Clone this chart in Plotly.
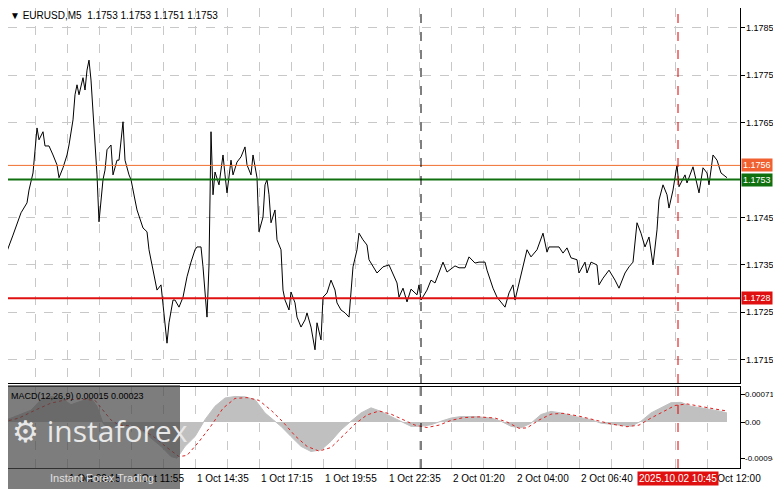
import plotly.graph_objects as go

# price line (bar index, close)
bar_idx = [0, 2, 5, 7, 9, 12, 13, 15, 17, 18, 20, 21, 23, 25, 27, 28, 30, 32, 33, 35, 36, 37, 38, 40, 41, 42, 43, 44, 46, 47, 48,
           50, 51, 52, 54, 55, 57, 58, 60, 61, 63, 64, 66, 67, 70, 72, 73, 75, 77, 79, 82, 83, 85, 86, 88, 90, 92, 94, 96, 97, 99,
           100, 102, 103, 104, 105, 106, 108, 110, 111, 112, 114, 115, 117, 119, 121, 122, 124, 125, 127, 128, 130, 131, 132, 133,
           134, 136, 137, 139, 140, 141, 143, 144, 146, 147, 149, 151, 152, 154, 156, 157, 159, 160, 162, 164, 166, 167, 169, 171,
           173, 174, 175, 177, 178, 180, 182, 183, 185, 187, 190, 193, 197, 198, 200, 202, 204, 207, 208, 209, 212, 214, 216, 220,
           222, 226, 228, 231, 233, 236, 238, 241, 242, 245, 247, 251, 253, 255, 256, 257, 260, 262, 264, 267, 270, 272, 273, 278,
           280, 282, 284, 287, 288, 291, 292, 294, 297, 298, 300, 303, 306, 308, 311, 313, 315, 317, 319, 321, 323, 325, 327, 328,
           330, 332, 333, 335, 337, 338, 341, 342, 345, 347, 348, 350, 352, 353, 355, 357, 359, 362]
close = [1.17361, 1.17379, 1.17413, 1.17439, 1.17460, 1.17481, 1.17508, 1.17544, 1.17639, 1.17614, 1.17631, 1.17601, 1.17601,
         1.17582, 1.17561, 1.17534, 1.17555, 1.17582, 1.17603, 1.17656, 1.17709, 1.17730, 1.17709, 1.17745, 1.17719, 1.17761,
         1.17782, 1.17740, 1.17614, 1.17540, 1.17441, 1.17530, 1.17550, 1.17593, 1.17603, 1.17540, 1.17571, 1.17571, 1.17652,
         1.17571, 1.17540, 1.17530, 1.17487, 1.17466, 1.17428, 1.17420, 1.17382, 1.17339, 1.17297, 1.17308, 1.17185, 1.17228,
         1.17276, 1.17276, 1.17261, 1.17282, 1.17325, 1.17356, 1.17382, 1.17388, 1.17388, 1.17346, 1.17240, 1.17350, 1.17631,
         1.17498, 1.17546, 1.17519, 1.17582, 1.17540, 1.17502, 1.17571, 1.17540, 1.17567, 1.17578, 1.17599, 1.17561, 1.17540,
         1.17582, 1.17534, 1.17420, 1.17451, 1.17519, 1.17530, 1.17498, 1.17439, 1.17466, 1.17403, 1.17382, 1.17297, 1.17276,
         1.17255, 1.17293, 1.17270, 1.17240, 1.17219, 1.17234, 1.17249, 1.17219, 1.17171, 1.17228, 1.17192, 1.17282, 1.17291,
         1.17318, 1.17297, 1.17270, 1.17255, 1.17249, 1.17240, 1.17297, 1.17346, 1.17382, 1.17417, 1.17403, 1.17392, 1.17361,
         1.17346, 1.17333, 1.17346, 1.17350, 1.17312, 1.17282, 1.17301, 1.17272, 1.17299, 1.17287, 1.17308, 1.17276, 1.17297,
         1.17318, 1.17312, 1.17356, 1.17335, 1.17348, 1.17344, 1.17344, 1.17367, 1.17354, 1.17356, 1.17356, 1.17339, 1.17301,
         1.17282, 1.17261, 1.17291, 1.17308, 1.17276, 1.17293, 1.17346, 1.17382, 1.17367, 1.17382, 1.17417, 1.17377, 1.17388,
         1.17388, 1.17375, 1.17386, 1.17365, 1.17361, 1.17333, 1.17356, 1.17333, 1.17356, 1.17350, 1.17308, 1.17322, 1.17339,
         1.17318, 1.17301, 1.17333, 1.17346, 1.17356, 1.17439, 1.17417, 1.17388, 1.17409, 1.17350, 1.17424, 1.17487, 1.17519,
         1.17498, 1.17470, 1.17508, 1.17561, 1.17515, 1.17540, 1.17523, 1.17557, 1.17515, 1.17502, 1.17555, 1.17544, 1.17519,
         1.17582, 1.17571, 1.17544, 1.17534]

# MACD histogram and signal
macd_idx = [0, 14, 19, 24, 29, 34, 39, 44, 47, 50, 52, 59, 64, 69, 74, 79, 84, 87, 91, 96, 101, 106, 111, 116, 121, 126, 131,
            135, 139, 144, 149, 154, 159, 164, 169, 174, 179, 184, 189, 194, 199, 204, 209, 214, 219, 224, 229, 236, 244, 249,
            254, 259, 264, 269, 274, 279, 286, 294, 299, 306, 314, 319, 324, 329, 334, 339, 344, 349, 354, 359, 362]
macd_main = [0.00002, 0.00030, 0.00057, 0.00065, 0.00061, 0.00044, 0.00053, 0.00061, 0.00040, -0.00003, -0.00015, -0.00011,
             -0.00007, -0.00020, -0.00041, -0.00062, -0.00088, -0.00092, -0.00062, -0.00037, 0.00006, 0.00040, 0.00061, 0.00065,
             0.00064, 0.00057, 0.00023, 0.00006, -0.00011, -0.00037, -0.00062, -0.00075, -0.00071, -0.00049, -0.00020, 0.00002,
             0.00023, 0.00036, 0.00027, 0.00014, 0.00002, -0.00011, -0.00011, -0.00007, 0.00002, 0.00010, 0.00014, 0.00014,
             0.00010, 0.00002, -0.00011, -0.00015, -0.00003, 0.00019, 0.00027, 0.00023, 0.00014, 0.00006, -0.00003, -0.00007,
             -0.00011, 0.00002, 0.00023, 0.00036, 0.00049, 0.00050, 0.00040, 0.00036, 0.00032, 0.00027, 0.00023]
signal_idx = [0, 8, 16, 24, 32, 40, 46, 50, 54, 58, 64, 70, 76, 82, 88, 92, 98, 104, 110, 116, 122, 128, 134, 140, 146, 152,
              158, 164, 170, 176, 182, 188, 194, 200, 206, 212, 218, 224, 230, 238, 246, 252, 258, 262, 268, 274, 280, 288, 296,
              304, 312, 318, 324, 330, 336, 342, 348, 356, 362]
signal = [0.00000, 0.00010, 0.00030, 0.00048, 0.00057, 0.00058, 0.00055, 0.00030, 0.00005, -0.00008, -0.00010, -0.00020,
          -0.00040, -0.00065, -0.00088, -0.00085, -0.00050, -0.00010, 0.00035, 0.00060, 0.00062, 0.00055, 0.00030, 0.00000,
          -0.00035, -0.00062, -0.00074, -0.00065, -0.00035, -0.00005, 0.00018, 0.00028, 0.00020, 0.00005, -0.00008, -0.00014,
          -0.00008, 0.00004, 0.00011, 0.00013, 0.00010, 0.00000, -0.00016, -0.00015, 0.00005, 0.00020, 0.00022, 0.00015,
          0.00005, -0.00005, -0.00012, -0.00008, 0.00010, 0.00025, 0.00042, 0.00046, 0.00040, 0.00033, 0.00028]

time_ticks = [0, 32, 64, 96, 128, 160, 192, 224, 256, 288, 352]
time_labels = ["1 Oct 2025", "1 Oct 09:15", "1 Oct 11:55", "1 Oct 14:35", "1 Oct 17:15", "1 Oct 19:55",
               "1 Oct 22:35", "2 Oct 01:20", "2 Oct 04:00", "2 Oct 06:40", "2 Oct 12:00"]
price_ticks = [1.1715, 1.1725, 1.1735, 1.1745, 1.1765, 1.1775, 1.1785]
macd_ticks = [-0.00094, 0, 0.00071]
macd_tick_labels = ["-0.00094", "0.00", "0.00071"]

level_orange = 1.1756
level_green = 1.1753
level_red = 1.1728
cursor_bar = 337.5
day_sep_bar = 209

FONT = "Liberation Sans"
# the page body has an 8px margin, so lay out in a 773x481 box shifted by 8px
OFF = 8
W, H = 781 - OFF, 489 - OFF


def fx(px):
    return (px - OFF) / W


def fy(py):
    return 1 - (py - OFF) / H


fig = go.Figure()
fig.add_trace(go.Scatter(x=bar_idx, y=close, mode="lines", line=dict(color="black", width=1),
                         xaxis="x", yaxis="y", hoverinfo="skip"))
fig.add_trace(go.Scatter(x=macd_idx, y=macd_main, mode="lines", fill="tozeroy", fillcolor="#c0c0c0",
                         line=dict(color="#c0c0c0", width=1), xaxis="x2", yaxis="y2", hoverinfo="skip"))
fig.add_trace(go.Scatter(x=signal_idx, y=signal, mode="lines", line=dict(color="#e02020", width=1, dash="dot"),
                         xaxis="x2", yaxis="y2", hoverinfo="skip"))

grid = dict(showgrid=True, gridcolor="#c8c8c8", griddash="dash", gridwidth=1)
xr = [2.5, 368.5]
fig.update_layout(
    width=W, height=H, margin=dict(l=0, r=0, t=0, b=0),
    paper_bgcolor="white", plot_bgcolor="white", showlegend=False,
    font=dict(family=FONT, size=10, color="black"),
    xaxis=dict(domain=[0, fx(740)], range=xr, anchor="y", tickvals=list(range(16, 369, 16)),
               showticklabels=False, showline=True, linecolor="black", mirror=True, zeroline=False, **grid),
    yaxis=dict(domain=[fy(383), 1], range=[1.17101, 1.17892], side="right", anchor="x",
               tickvals=price_ticks, showticklabels=False, ticks="outside", ticklen=4, tickcolor="black",
               showline=True, linecolor="black", mirror=True, zeroline=False, **grid),
    xaxis2=dict(domain=[0, fx(740)], range=xr, anchor="y2", tickvals=list(range(16, 369, 16)),
                showticklabels=False, showline=True, linecolor="black", mirror=True, zeroline=False, **grid),
    yaxis2=dict(domain=[fy(468), fy(387)], range=[-0.00117, 0.00089], side="right", anchor="x2",
                tickvals=macd_ticks, showticklabels=False, ticks="outside", ticklen=4, tickcolor="black",
                showgrid=False, showline=True, linecolor="black", mirror=True, zeroline=False),
)

# right-hand tick labels
for v in price_ticks:
    fig.add_annotation(x=fx(744), xref="paper", y=v, yref="y", text=f"{v:.4f}", showarrow=False,
                       xanchor="left", font=dict(size=9))
for v, t in zip(macd_ticks, macd_tick_labels):
    fig.add_annotation(x=fx(743), xref="paper", y=v, yref="y2", text=t, showarrow=False,
                       xanchor="left", font=dict(size=8))

# support / resistance levels
fig.add_hline(y=level_orange, line=dict(color="#f07030", width=1), xref="x", yref="y")
fig.add_hline(y=level_green, line=dict(color="#107010", width=2), xref="x", yref="y")
fig.add_hline(y=level_red, line=dict(color="#e01010", width=2), xref="x", yref="y")

for ax, xa in [("y", "x"), ("y2", "x2")]:
    fig.add_shape(type="line", xref=xa, yref=f"{ax} domain", x0=day_sep_bar, x1=day_sep_bar,
                  y0=0, y1=1, line=dict(color="black", width=1, dash="dash"))
    fig.add_shape(type="line", xref=xa, yref=f"{ax} domain", x0=cursor_bar, x1=cursor_bar,
                  y0=0, y1=1, line=dict(color="#e00000", width=1, dash="dash"))

# price tags on right axis
for lvl, col, txt in [(level_orange, "#f06030", "1.1756"), (level_green, "#107010", "1.1753"), (level_red, "#e01010", "1.1728")]:
    fig.add_annotation(x=fx(741), xref="paper", y=lvl, yref="y", text=txt, showarrow=False, xanchor="left",
                       bgcolor=col, font=dict(color="white", size=9), borderpad=1)

fig.add_annotation(x=fx(8), y=fy(15), xref="paper", yref="paper", text="▼ EURUSD,M5  1.1753 1.1753 1.1751 1.1753",
                   showarrow=False, xanchor="left", yanchor="middle", font=dict(size=10))
fig.add_annotation(x=fx(9), y=fy(396), xref="paper", yref="paper", text="MACD(12,26,9) 0.00015 0.00023",
                   showarrow=False, xanchor="left", yanchor="middle", font=dict(size=9))

for t, lab in zip(time_ticks, time_labels):
    fig.add_annotation(x=t, xref="x2", y=fy(478), yref="paper", text=lab, showarrow=False,
                       xanchor="left", yanchor="middle", font=dict(size=10))
fig.add_annotation(x=cursor_bar, xref="x2", y=fy(478), yref="paper", text="2025.10.02 10:45", showarrow=False,
                   xanchor="center", yanchor="middle", bgcolor="#e01010", font=dict(color="white", size=10))

# watermark
fig.add_shape(type="rect", xref="paper", yref="paper", x0=0, x1=fx(180), y0=0, y1=fy(385),
              fillcolor="rgba(70,70,70,0.7)", line=dict(width=0), layer="above")
fig.add_annotation(x=fx(10), y=fy(430), xref="paper", yref="paper", text="⚙ instaforex", showarrow=False,
                   xanchor="left", yanchor="middle", font=dict(size=30, color="#e8e8e8", family="Open Sans"))
fig.add_annotation(x=fx(48), y=fy(478), xref="paper", yref="paper", text="Instant Forex Trading", showarrow=False,
                   xanchor="left", yanchor="middle", font=dict(size=11, color="#e0e0e0"))

fig.write_html("out.html")
